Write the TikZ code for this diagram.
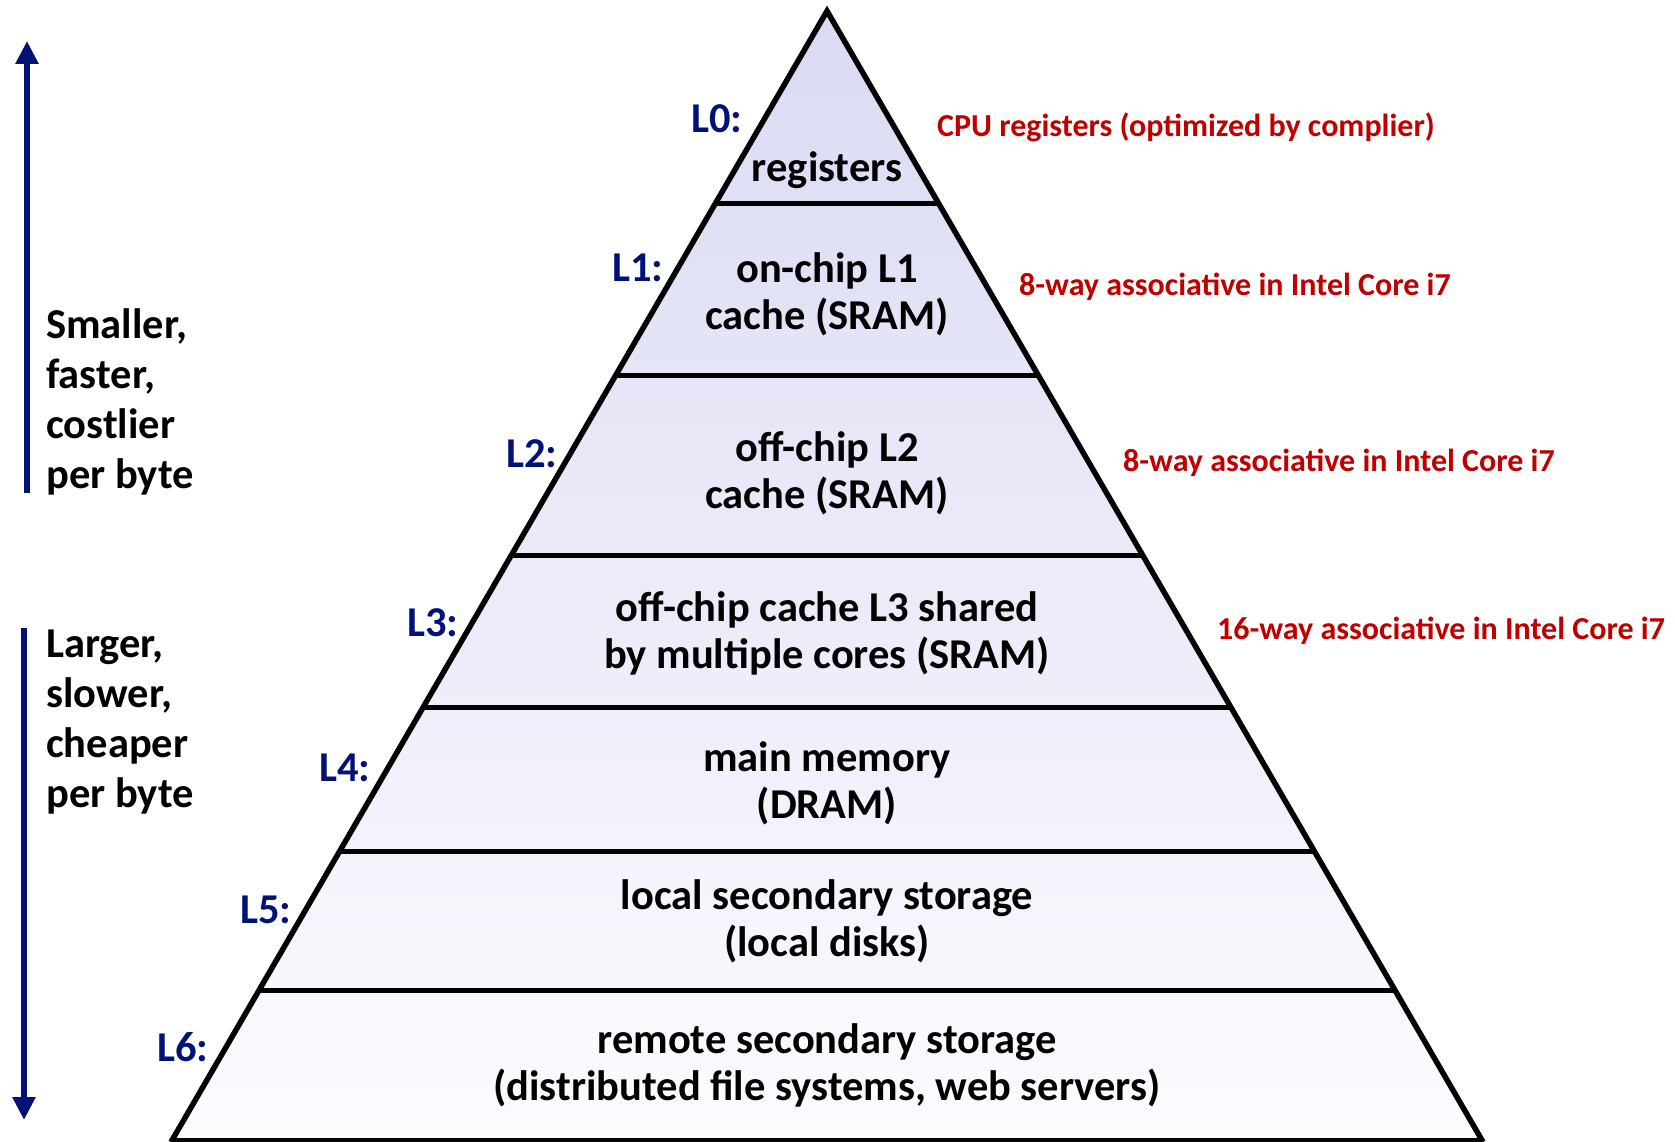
\documentclass[tikz,border=0pt]{standalone}
\usepackage{fontspec}
\setmainfont{Carlito}
\usetikzlibrary{arrows.meta,calc}
\definecolor{navy}{RGB}{0,18,120}
\definecolor{annred}{RGB}{192,0,0}
\definecolor{filltop}{RGB}{218,218,243}
\definecolor{fillbot}{RGB}{252,252,255}
\tikzset{
  lvltext/.style={align=center,inner sep=0pt,font=\bfseries\fontsize{42.5}{47}\selectfont,text=black},
  lvllabel/.style={inner sep=0pt,font=\bfseries\fontsize{42.5}{47}\selectfont,text=navy},
  annot/.style={inner sep=0pt,anchor=west,font=\bfseries\fontsize{32}{36}\selectfont,text=annred},
  sidetext/.style={align=left,inner sep=0pt,anchor=west,font=\bfseries\fontsize{42.5}{50}\selectfont,text=black},
  sidearrow/.style={draw=navy,line width=6pt,-{Triangle[length=23pt,width=22pt]}},
  divider/.style={line width=5pt,draw=black},
  outline/.style={line width=5.5pt,draw=black,line join=miter}
}
\begin{document}
\begin{tikzpicture}[x=1pt,y=-1pt]
\useasboundingbox (0,0) rectangle (1675,1142);
% pyramid
\coordinate (apex) at (827,11);
\coordinate (bl) at (171,1142);
\coordinate (br) at (1483,1142);
\shade[top color=filltop,bottom color=fillbot] (apex) -- (bl) -- (br) -- cycle;
\begin{scope}
  \clip (apex) -- (bl) -- (br) -- cycle;
  \foreach \yy in {204,375,555,707,851,990}
    \draw[divider] (0,\yy) -- (1675,\yy);
  \draw[divider] (0,1140) -- (1675,1140);
\end{scope}
\draw[outline] (bl) -- (apex) -- (br);
% level texts
\node[lvltext] (t0) at (827,170) {registers};
\node[lvltext] (t1) at (827,294) {on-chip L1\\cache (SRAM)};
\node[lvltext] (t2) at (827,473) {off-chip L2\\cache (SRAM)};
\node[lvltext] (t3) at (827,633) {off-chip cache L3 shared\\by multiple cores (SRAM)};
\node[lvltext] (t4) at (827,783) {main memory\\(DRAM)};
\node[lvltext] (t5) at (827,921) {local secondary storage\\(local disks)};
\node[lvltext] (t6) at (827,1065) {remote secondary storage\\(distributed file systems, web servers)};
% level labels
\node[lvllabel] (l0) at (717,119) {L0:};
\node[lvllabel] (l1) at (638,268) {L1:};
\node[lvllabel] (l2) at (532,454) {L2:};
\node[lvllabel] (l3) at (433,623) {L3:};
\node[lvllabel] (l4) at (345,768) {L4:};
\node[lvllabel] (l5) at (266,910) {L5:};
\node[lvllabel] (l6) at (183,1047) {L6:};
% annotations
\node[annot] (a0) at (937,127) {CPU registers (optimized by complier)};
\node[annot] (a1) at (1019,287) {8-way associative in Intel Core i7};
\node[annot] (a2) at (1123,463) {8-way associative in Intel Core i7};
\node[annot] (a3) at (1217,631) {16-way associative in Intel Core i7};
% side texts
\node[sidetext] (s1) at (46,402) {Smaller,\\faster,\\costlier\\per byte};
\node[sidetext] (s2) at (46,722) {Larger,\\slower,\\cheaper\\per byte};
% side arrows
\coordinate (uptail) at (27,493);
\coordinate (uphead) at (27,41);
\coordinate (dntail) at (24,628);
\coordinate (dnhead) at (24,1120);
\draw[sidearrow] (uptail) -- (uphead);
\draw[sidearrow] (dntail) -- (dnhead);
\end{tikzpicture}
\end{document}
